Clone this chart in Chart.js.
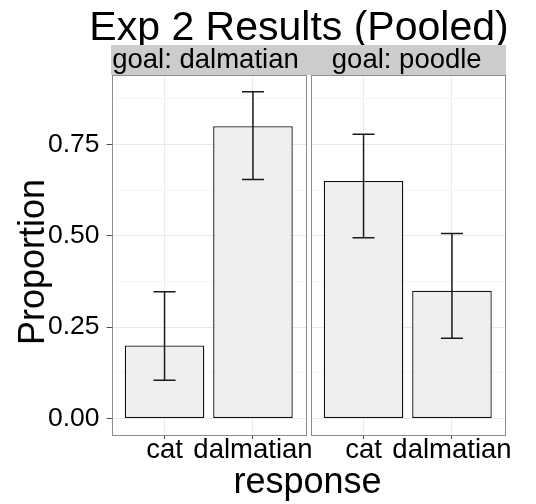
<!DOCTYPE html>
<html>
<head>
<meta charset="utf-8">
<script src="https://cdn.jsdelivr.net/npm/chart.js@4.4.0/dist/chart.umd.min.js"></script>
<style>
  body { margin: 0; background: #fff; }
  #wrap { position: relative; width: 536px; height: 504px; font-family: "Liberation Sans", Arial, sans-serif; color: #000; }
  canvas { position: absolute; left: 0; top: 0; }
  .txt { position: absolute; white-space: nowrap; line-height: 1; }
  .strip { position: absolute; top: 45px; height: 30px; background: #cccccc; font-size: 27.5px; line-height: 27px; text-align: center; white-space: nowrap; box-sizing: border-box; }
</style>
</head>
<body>
<div id="wrap">
  <canvas id="panelA" width="536" height="504"></canvas>
  <canvas id="panelB" width="536" height="504"></canvas>
  <div class="txt" style="left:299px; top:6px; font-size:41px; transform:translateX(-50%);">Exp 2 Results (Pooled)</div>
  <div class="strip" id="stripA" style="left:111px; width:197px; padding-right:8px;"></div>
  <div class="strip" id="stripB" style="left:308px; width:197.5px;"></div>
  <div class="txt" style="left:307.5px; top:463px; font-size:36px; transform:translateX(-50%);">response</div>
  <div class="txt" style="left:31.5px; top:261.5px; font-size:36px; transform:translate(-50%,-50%) rotate(-90deg);">Proportion</div>
</div>
<script>
const categories = ['cat', 'dalmatian'];
const facetGoals = ['goal: dalmatian', 'goal: poodle'];

const propDalmatian = [0.20, 0.80];
const lowDalmatian = [0.105, 0.654];
const highDalmatian = [0.347, 0.894];

const propPoodle = [0.65, 0.35];
const lowPoodle = [0.495, 0.22];
const highPoodle = [0.778, 0.506];

const yMajor = [0, 0.25, 0.5, 0.75];
const yMinor = [0.125, 0.375, 0.625, 0.875];

document.getElementById('stripA').textContent = facetGoals[0];
document.getElementById('stripB').textContent = facetGoals[1];

const yFont = { family: '"Liberation Sans", Arial, sans-serif', size: 26.5, lineHeight: 1 };
const xFont = { family: '"Liberation Sans", Arial, sans-serif', size: 27.5, lineHeight: 1 };

// error bars on top of the bars
const errorBars = {
  id: 'errorBars',
  afterDatasetsDraw(chart, args, opts) {
    const ctx = chart.ctx;
    const y = chart.scales.y;
    const meta = chart.getDatasetMeta(0);
    ctx.save();
    ctx.strokeStyle = '#1a1a1a';
    ctx.lineWidth = 1.5;
    meta.data.forEach((bar, i) => {
      const top = y.getPixelForValue(opts.highs[i]);
      const bot = y.getPixelForValue(opts.lows[i]);
      ctx.beginPath();
      ctx.moveTo(bar.x, top); ctx.lineTo(bar.x, bot);
      ctx.moveTo(bar.x - 11, top); ctx.lineTo(bar.x + 11, top);
      ctx.moveTo(bar.x - 11, bot); ctx.lineTo(bar.x + 11, bot);
      ctx.stroke();
    });
    ctx.restore();
  }
};

// grey frame round each facet
const panelBorder = {
  id: 'panelBorder',
  afterDraw(chart) {
    const a = chart.chartArea;
    const ctx = chart.ctx;
    ctx.save();
    ctx.strokeStyle = '#8c8c8c';
    ctx.lineWidth = 1;
    const l = Math.round(a.left) + 0.5, t = Math.round(a.top) + 0.5;
    ctx.strokeRect(l, t, Math.round(a.right) - Math.round(a.left), Math.round(a.bottom) - Math.round(a.top));
    ctx.restore();
  }
};

function drawPanel(id, props, lows, highs, pad, showY) {
  new Chart(document.getElementById(id), {
    type: 'bar',
    data: {
      datasets: [{
        data: categories.map((c, i) => ({ x: i + 1, y: props[i] })),
        backgroundColor: '#efefef',
        borderColor: '#111',
        borderWidth: 1.3,
        borderSkipped: false,
        barPercentage: 0.9,
        categoryPercentage: 1
      }]
    },
    options: {
      responsive: false,
      animation: false,
      devicePixelRatio: 1,
      layout: { padding: pad },
      plugins: {
        legend: { display: false },
        tooltip: { enabled: false },
        errorBars: { lows: lows, highs: highs }
      },
      scales: {
        x: {
          type: 'linear',
          bounds: 'data',
          offset: false,
          min: 0.4,
          max: 2.6,
          afterBuildTicks: s => { s.ticks = categories.map((c, i) => ({ value: i + 1 })); },
          afterFit: s => { s.height = 40; s.paddingLeft = 0; s.paddingRight = 0; },
          ticks: { callback: v => categories[v - 1], font: xFont, color: '#000', padding: -2, maxRotation: 0, autoSkip: false },
          grid: { offset: false, color: '#ebebeb', tickColor: '#4d4d4d', tickLength: 4 },
          border: { display: false }
        },
        y: {
          bounds: 'data',
          min: -0.045,
          max: 0.94,
          afterBuildTicks: s => {
            s.ticks = yMajor.concat(yMinor).sort((a, b) => a - b).map(v => ({ value: v }));
          },
          afterFit: s => { s.width = showY ? 111.5 : 0; s.paddingTop = 0; s.paddingBottom = 0; },
          ticks: {
            display: showY,
            callback: v => yMajor.includes(v) ? v.toFixed(2) : '',
            font: yFont,
            color: '#000',
            padding: 7,
            autoSkip: false
          },
          grid: {
            color: c => (c.tick && yMajor.includes(c.tick.value)) ? '#e8e8e8' : '#f6f6f6',
            tickColor: c => (c.tick && yMajor.includes(c.tick.value)) ? '#4d4d4d' : 'rgba(0,0,0,0)',
            tickLength: 5,
            drawTicks: showY
          },
          border: { display: false }
        }
      }
    },
    plugins: [errorBars, panelBorder]
  });
}

drawPanel('panelA', propDalmatian, lowDalmatian, highDalmatian, { left: 0, right: 230, top: 75, bottom: 29 }, true);
drawPanel('panelB', propPoodle, lowPoodle, highPoodle, { left: 310.5, right: 31, top: 75, bottom: 29 }, false);
</script>
</body>
</html>
